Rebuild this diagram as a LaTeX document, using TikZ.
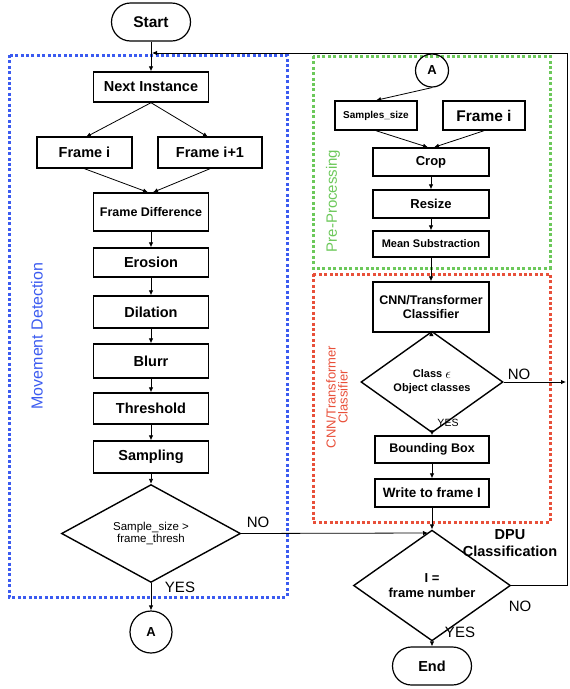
\documentclass[tikz,border=0pt]{standalone}
\usepackage{fontspec}
\setmainfont{Liberation Sans}
\usetikzlibrary{arrows.meta,shapes.geometric,calc}
\definecolor{mdblue}{RGB}{59,91,240}
\definecolor{ppgreen}{RGB}{108,200,90}
\definecolor{clred}{RGB}{232,80,58}
\newcommand{\fs}[1]{\fontsize{#1}{#1}\selectfont}
\begin{document}
\begin{tikzpicture}[x=1pt,y=-1pt,
  box/.style={draw,line width=1.4pt,inner sep=0pt,minimum height=30pt,minimum width=115pt,font=\fs{14.5}\bfseries,align=center},
  term/.style={draw,line width=1.2pt,rounded corners=19pt,minimum width=79pt,minimum height=38pt,inner sep=0pt,font=\fs{15.5}\bfseries},
  conn/.style={draw,circle,line width=1.2pt,inner sep=0pt,font=\fs{13}\bfseries},
  dec/.style={draw,diamond,line width=1.4pt,inner sep=0pt,align=center},
  arr/.style={-{Latex[length=5pt,width=4.5pt]},line width=0.8pt},
  grp/.style={line width=3pt,dash pattern=on 3pt off 2.4pt},
  lbl/.style={font=\fs{15},inner sep=0pt}]
\useasboundingbox (0,0) rectangle (570,689);
% group frames
\draw[grp,mdblue] (9,55) rectangle (287,597);
\draw[grp,ppgreen] (313,56) rectangle (550,268);
\draw[grp,clred] (313,274) rectangle (550,522);
\node[rotate=90,text=mdblue,font=\fs{16}] (mdlab) at (37,336) {Movement Detection};
\node[rotate=90,text=ppgreen,font=\fs{15}] (pplab) at (333,201) {Pre-Processing};
\node[rotate=90,text=clred,font=\fs{13},align=center] (cllab) at (337,397) {CNN/Transformer\\[-1pt]Classifier};
% left column
\node[term] (start) at (151,22) {Start};
\node[box] (next) at (151,87) {Next Instance};
\node[box,minimum width=95pt,minimum height=31pt] (fi) at (84.5,152.5) {Frame i};
\node[box,minimum width=104pt,minimum height=31pt] (fi1) at (210,152.5) {Frame i+1};
\node[box,minimum height=38pt,font=\fs{12.5}\bfseries] (fd) at (151,212) {Frame Difference};
\node[box,minimum height=29pt] (ero) at (151,262.5) {Erosion};
\node[box,minimum height=32pt] (dil) at (151,312) {Dilation};
\node[box,minimum height=34pt] (blur) at (151,361) {Blurr};
\node[box,minimum height=31pt] (thr) at (151,408.5) {Threshold};
\node[box,minimum height=32pt] (samp) at (151,457) {Sampling};
\node[dec,minimum width=179pt,minimum height=89pt,font=\fs{11.5}] (d1) at (151,533.5) {Sample\_size >\\frame\_thresh};
\node[conn,minimum size=42pt] (a1) at (151,632) {A};
% right column
\node[conn,minimum size=33pt] (a2) at (432,70.5) {A};
\node[box,minimum width=82pt,minimum height=29pt,font=\fs{10}\bfseries] (ss) at (376,115.5) {Samples\_size};
\node[box,minimum width=82pt,minimum height=29pt,font=\fs{15.5}\bfseries] (fr2) at (484,115.5) {Frame i};
\node[box,minimum width=116pt,minimum height=28pt,font=\fs{13}\bfseries] (crop) at (431,162) {Crop};
\node[box,minimum width=116pt,minimum height=28pt,font=\fs{13}\bfseries] (res) at (431,204) {Resize};
\node[box,minimum width=116pt,minimum height=26pt,font=\fs{11}\bfseries] (mean) at (431,244) {Mean Substraction};
\node[box,minimum width=116pt,minimum height=50pt,font=\fs{12.5}\bfseries] (cnn) at (431,307) {CNN/Transformer\\[1pt]Classifier};
\node[dec,minimum width=142pt,minimum height=70pt,font=\fs{11}\bfseries] (d2) at (432,382) {Class \raisebox{-1pt}{\fs{14}$\epsilon$}\\[3pt]Object classes};
\node[box,minimum width=114pt,minimum height=27pt,font=\fs{12.5}\bfseries] (bb) at (432,449.5) {Bounding Box};
\node[box,minimum width=114pt,minimum height=28pt,font=\fs{13.5}\bfseries] (wr) at (432,493) {Write to frame I};
\node[dec,minimum width=157pt,minimum height=77pt,font=\fs{13}\bfseries] (d3) at (432,585.5) {I =\\[2pt]frame number};
\node[term,font=\fs{14.5}\bfseries] (end) at (432,666) {End};
% labels
\node[lbl] (no1) at (258,522) {NO};
\node[lbl] (yes1) at (180,587) {YES};
\node[lbl] (no2) at (519,374) {NO};
\node[lbl,font=\fs{10.5}] (yes2) at (448,423) {YES};
\node[lbl,font=\fs{14.5}\bfseries,align=center] (dpu) at (510,543) {DPU\\[3pt]Classification};
\node[lbl] (no3) at (520,606) {NO};
\node[lbl] (yes3) at (460,632) {YES};
% coordinates
\coordinate (jl) at (152,53);
\coordinate (j1) at (428,533);
\coordinate (rr) at (567,585.5);
\coordinate (rt) at (567,53);
\coordinate (j2) at (566,382);
% connectors left
\draw[arr] (start.south) -- (next.north);
\draw[arr] (next.south) -- (86,137);
\draw[arr] (next.south) -- (208,137);
\draw[arr] (fi.south) -- ($(fd.north)+(-3,0)$);
\draw[arr] (fi1.south) -- ($(fd.north)+(2,0)$);
\draw[arr] (fd) -- (ero);
\draw[arr] (ero) -- (dil);
\draw[arr] (dil) -- (blur);
\draw[arr] (blur) -- (thr);
\draw[arr] (thr) -- (samp);
\draw[arr] (samp) -- (d1);
\draw[arr] (d1.south) -- (a1.north);
\draw[arr] (d1.east) -- (j1);
% connectors right
\draw[arr] (a2.south) -- (ss.north);
\draw[arr] (ss.south) -- ($(crop.north)+(-3,0)$);
\draw[arr] (fr2.south) -- ($(crop.north)+(3,0)$);
\draw[arr] (crop) -- (res);
\draw[arr] (res) -- (mean);
\draw[arr] (mean) -- (cnn);
\draw[arr] (cnn) -- (d2);
\draw[arr] (d2.south) -- (bb.north);
\draw[arr] (bb) -- (wr);
\draw[arr] (wr.south) -- (d3.north);
\draw[arr] (d2.east) -- (j2);
\draw[arr] (d3.east) -- (rr) -- (rt) -- (jl);
\draw[arr] (d3.south) -- (end.north);
\end{tikzpicture}
\end{document}
